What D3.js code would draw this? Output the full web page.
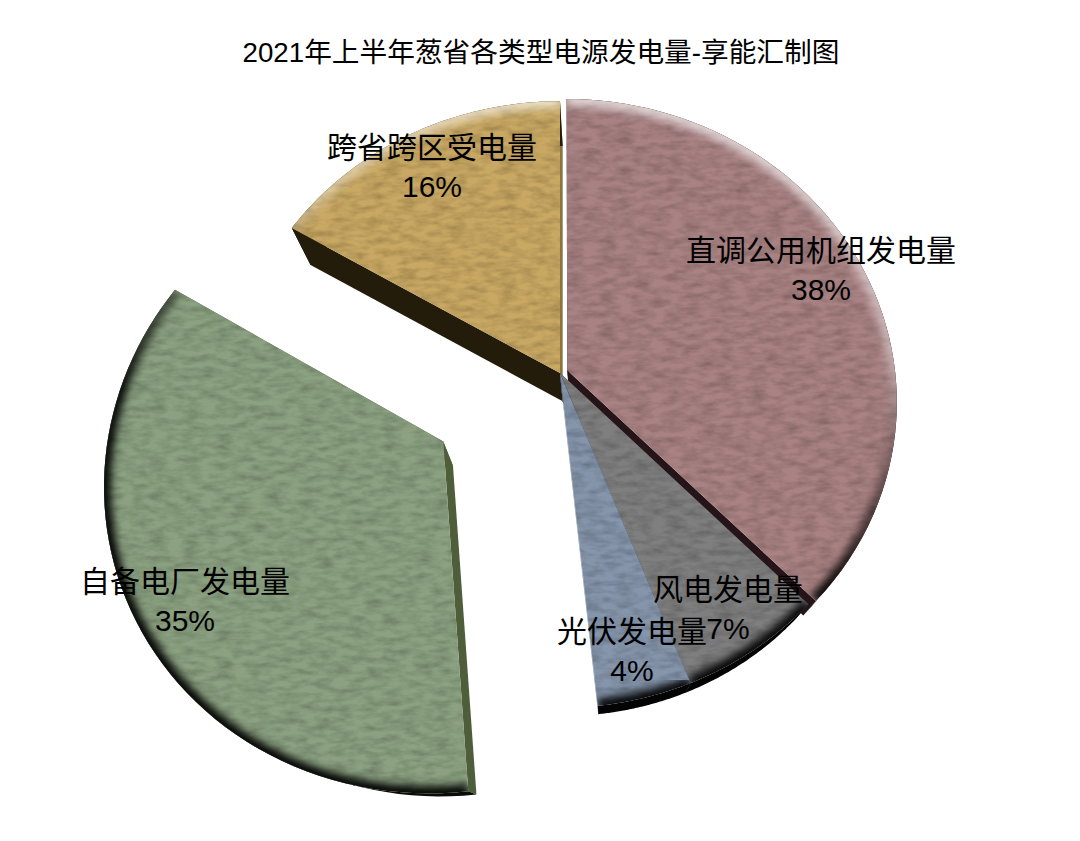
<!DOCTYPE html>
<html><head><meta charset="utf-8">
<script src="https://cdn.jsdelivr.net/npm/d3@7/dist/d3.min.js"></script>
<style>html,body{margin:0;padding:0;background:#fff}svg{display:block}
text{font-family:"Liberation Sans","Noto Sans CJK SC",sans-serif;fill:#000;text-anchor:middle}</style>
</head><body><svg id="c" width="1080" height="841"></svg>
<script>
const title = "2021年上半年葱省各类型电源发电量-享能汇制图";
const categories = ["直调公用机组发电量","风电发电量","光伏发电量","自备电厂发电量","跨省跨区受电量"];
const values = [37.6,6.5,4.2,35.1,16.49];
const percentLabels = ["38%","7%","4%","35%","16%"];
const topColors = ["#a98283","#7f7f7f","#8595ab","#8ba181","#c9a864"];
const arcWall = ["#0c0608","#040405","#040405","#0a0c06","#231c0b"];
const startWall = ["#3a2427","#333","#222a38","#4e5e3a","#231c0b"];
const endWall = ["#251418","#333","#8595ab","#4e5e3a","#8a7440"];
const explode = [0.024,0,0,0.413,0];
const drawOrder = [4,0,1,2,3];
const labelPos = [[821,250],[728,589],[632,631],[185,581],[432,147]];

const W=1080,H=841;
const svg=d3.select("#c");
const C={x:560,y:373},R=328,Hz=300,K=0.104;
const V={x:605,y:845},S=0.06;
const project=(u,v)=>{const w=1+K*v;return [C.x+R*u/w,C.y-Hz*v/w];};
const extrude=p=>[p[0]+S*(V.x-p[0]),p[1]+S*(V.y-p[1])];
const arcs=d3.pie().sort(null).value(d=>d)(values);
const line=d3.line();
const defs=svg.append("defs");

const tex=defs.append("filter").attr("id","tex").attr("x","-5%").attr("y","-5%").attr("width","110%").attr("height","110%");
tex.append("feTurbulence").attr("type","fractalNoise").attr("baseFrequency","0.06 0.16").attr("numOctaves",3).attr("seed",4).attr("result","n");
tex.append("feColorMatrix").attr("in","n").attr("type","matrix").attr("values","0 0 0 0 0  0 0 0 0 0  0 0 0 0 0  0.7 0 0 0 -0.24").attr("result","a");
tex.append("feComposite").attr("in","a").attr("in2","SourceAlpha").attr("operator","in").attr("result","g");
const mg=tex.append("feMerge");mg.append("feMergeNode").attr("in","SourceGraphic");mg.append("feMergeNode").attr("in","g");
defs.append("filter").attr("id","blur").attr("x","-10%").attr("y","-10%").attr("width","120%").attr("height","120%")
  .append("feGaussianBlur").attr("stdDeviation",4);
const blur2=defs.append("filter").attr("id","blur2").attr("x","-10%").attr("y","-10%").attr("width","120%").attr("height","120%");
blur2.append("feGaussianBlur").attr("stdDeviation",40);

const rimG=defs.append("linearGradient").attr("id","rim").attr("gradientUnits","userSpaceOnUse")
 .attr("x1",760).attr("y1",100).attr("x2",560).attr("y2",800);
[[0,"#fff",.75],[.3,"#fff",.35],[.42,"#000",.25],[.62,"#000",.95],[1,"#000",1]].forEach(s=>
  rimG.append("stop").attr("offset",s[0]).attr("stop-color",s[1]).attr("stop-opacity",s[2]));

const shape=arcs.map((a,i)=>{
  const mid=(a.startAngle+a.endAngle)/2, d=explode[i];
  const du=d*Math.sin(mid), dv=d*Math.cos(mid);
  const pt=t=>project(du+Math.sin(t),dv+Math.cos(t));
  const rim=d3.range(0,61).map(k=>pt(a.startAngle+(a.endAngle-a.startAngle)*k/60));
  return {apex:project(du,dv),rim};
});
const face=(ps)=>line(ps)+"Z";

drawOrder.forEach(i=>{
  const s=shape[i], g=svg.append("g").attr("class","slice");
  const ax=extrude(s.apex), r0=s.rim[0], r1=s.rim[s.rim.length-1];
  g.append("path").attr("d",face([s.apex,r0,extrude(r0),ax])).attr("fill",startWall[i]);
  g.append("path").attr("d",face([s.apex,r1,extrude(r1),ax])).attr("fill",endWall[i]);
  g.append("path").attr("d",face(s.rim.concat(s.rim.map(extrude).reverse()))).attr("fill",arcWall[i]);
  const d=face([s.apex].concat(s.rim));
  defs.append("clipPath").attr("id","cl"+i).append("path").attr("d",d);
  g.append("path").attr("d",d).attr("fill",topColors[i]).attr("filter","url(#tex)");
  const inner=g.append("g").attr("clip-path","url(#cl"+i+")");
  inner.append("path").attr("d",line(s.rim)).attr("fill","none")
    .attr("stroke","url(#rim)").attr("stroke-width",14).attr("filter","url(#blur)");
});

const fs=30,lh=38.5;
arcs.forEach((a,i)=>{
  const p=labelPos[i];
  svg.append("text").attr("x",p[0]).attr("y",p[1]+11).attr("font-size",fs).text(categories[i]);
  svg.append("text").attr("x",p[0]).attr("y",p[1]+11+lh).attr("font-size",fs).text(percentLabels[i]);
});
svg.append("text").attr("x",541).attr("y",62).attr("font-size",27.7).text(title);
</script></body></html>
